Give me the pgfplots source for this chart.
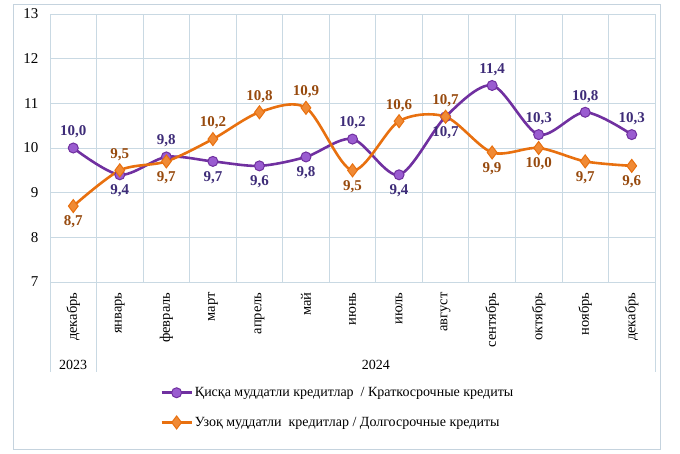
\documentclass[border=0pt]{standalone}
\usepackage{pgfplots}
\pgfplotsset{compat=1.18}
\usepackage{pgfplotstable}
\usepackage{fontspec}
\setmainfont{Liberation Serif}
\definecolor{gridc}{HTML}{C9D9E3}
\definecolor{framec}{HTML}{C5D3DE}
\definecolor{purpl}{HTML}{7030A0}
\definecolor{purplfill}{HTML}{9A5CD0}
\definecolor{purpltxt}{HTML}{3E2C78}
\definecolor{orng}{HTML}{E8700F}
\definecolor{orngfill}{HTML}{F08A35}
\definecolor{orngtxt}{HTML}{974A0E}
\pgfplotstableread{
x short sp long lp
0 10.0 1 8.7 -1
1 9.4 -1 9.5 1
2 9.8 1 9.7 -1
3 9.7 -1 10.2 1
4 9.6 -1 10.8 1
5 9.8 -1 10.9 1
6 10.2 1 9.5 -1
7 9.4 -1 10.6 1
8 10.7 -1 10.7 1
9 11.4 1 9.9 -1
10 10.3 1 10.0 -1
11 10.8 1 9.7 -1
12 10.3 1 9.6 -1
}\data
\begin{document}
\begin{tikzpicture}
\useasboundingbox (0pt,0pt) rectangle (680pt,453pt);
\draw[framec, line width=1pt] (13pt,4pt) rectangle (660pt,448pt);
\begin{axis}[
  at={(50pt,171pt)}, anchor=south west,
  scale only axis, width=605pt, height=268pt,
  xmin=-0.5, xmax=12.5, ymin=7, ymax=13,
  ytick={7,8,9,10,11,12,13},
  yticklabels={7,8,9,10,11,12,13},
  xtick={0,...,12},
  xticklabels={декабрь,январь,февраль,март,апрель,май,июнь,июль,август,сентябрь,октябрь,ноябрь,декабрь},
  minor xtick={0.5,1.5,...,11.5},
  xminorgrids, ymajorgrids,
  grid style={gridc, line width=0.8pt},
  minor grid style={gridc, line width=0.8pt},
  axis line style={gridc, line width=0.8pt},
  tick style={draw=none},
  /pgf/number format/assume math mode=true,
  xticklabel style={rotate=90, anchor=east, font=\fontsize{14.5}{16}\selectfont},
  xticklabel shift=7pt,
  yticklabel style={font=\fontsize{15}{17}\selectfont, xshift=-8pt},
  clip=false,
  legend style={at={(axis description cs:0.182,-0.385)}, anchor=north west, draw=none, fill=none,
    font=\fontsize{14}{16}\selectfont, row sep=15pt, inner sep=0pt},
  legend cell align=left,
  legend image code/.code={\draw[mark repeat=2,mark phase=2,#1] plot coordinates {(0pt,0pt) (15pt,0pt) (30pt,0pt)};},
]
\addplot[smooth, purpl, line width=2.6pt, mark=*, mark size=5pt,
  mark options={fill=purplfill, draw=purpl, line width=1pt},
  nodes near coords={\pgfmathprintnumber[fixed,fixed zerofill,precision=1,use comma,assume math mode=true]{\pgfplotspointmeta}},
  visualization depends on={\thisrow{sp}\as\pos},
  every node near coord/.append style={anchor=center, yshift=\pos*16pt, text=purpltxt, font=\bfseries\fontsize{15}{17}\selectfont}]
  table[x=x, y=short] {\data};
\addlegendentry{Қисқа муддатли кредитлар \ / Краткосрочные кредиты}
\addplot[smooth, orng, line width=2.6pt, mark=diamond*, mark size=6.5pt,
  mark options={fill=orngfill, draw=orng, line width=1pt},
  nodes near coords={\pgfmathprintnumber[fixed,fixed zerofill,precision=1,use comma,assume math mode=true]{\pgfplotspointmeta}},
  visualization depends on={\thisrow{lp}\as\pos},
  every node near coord/.append style={anchor=center, yshift=\pos*16pt, text=orngtxt, font=\bfseries\fontsize{15}{17}\selectfont}]
  table[x=x, y=long] {\data};
\addlegendentry{Узоқ муддатли \ кредитлар / Долгосрочные кредиты}
\end{axis}
\draw[gridc, line width=0.8pt] (50pt,171pt) -- (50pt,81pt);
\draw[gridc, line width=0.8pt] (96.5pt,171pt) -- (96.5pt,81pt);
\draw[gridc, line width=0.8pt] (655pt,171pt) -- (655pt,81pt);
\node[font=\fontsize{14}{16}\selectfont] at (73pt,88pt) {2023};
\node[font=\fontsize{14}{16}\selectfont] at (375.75pt,88pt) {2024};
\end{tikzpicture}
\end{document}
